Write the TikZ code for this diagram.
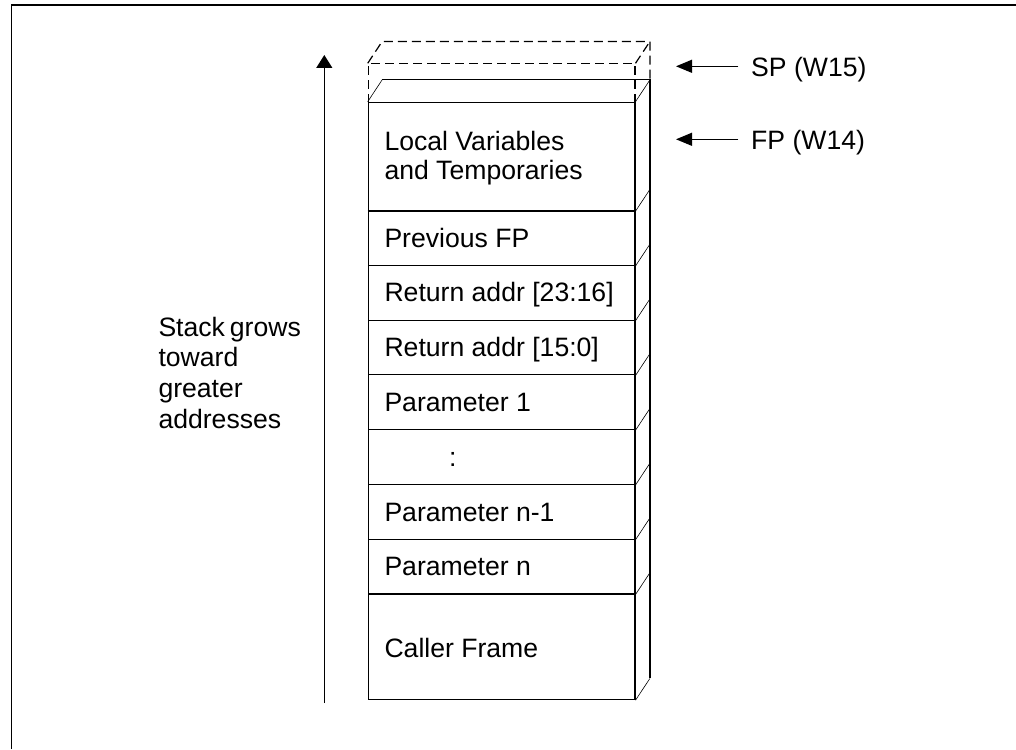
\documentclass[tikz,border=0pt]{standalone}
\usepackage{fontspec}
\setmainfont{Liberation Sans}
\usetikzlibrary{arrows.meta}
\begin{document}
\begin{tikzpicture}[x=1pt,y=-1pt,
  line/.style={line width=1.2pt},
  thin3d/.style={line width=0.6pt},
  dashline/.style={line width=1.2pt, dash pattern=on 9pt off 5pt},
  cell/.style={draw, line width=1.2pt, rectangle, inner sep=0pt, minimum width=266.6pt, anchor=north west},
  lbl/.style={font=\fontsize{26.6}{29}\selectfont, inner sep=0pt, anchor=base west},
  harrow/.style={line width=1.2pt, -{Triangle[length=16pt,width=13pt]}},
  varrow/.style={line width=1.2pt, -{Triangle[length=13pt,width=16pt]}},
  back/.style={shift={(14.4,-21.8)}}
]
\useasboundingbox (0,0) rectangle (1016,749);
% frame
\draw[line width=1.5pt] (11.5,749) -- (11.5,5) -- (1016,5);

% dashed (future) slot
\node[cell, dashline, minimum height=38.4pt] (spbox) at (367.7,63.3) {};
\draw[dashline] (spbox.north west) -- ([back]spbox.north west) -- ([back]spbox.north east) -- ([back]spbox.south east);
\draw[dashline] (spbox.north east) -- ([back]spbox.north east);

% cells
\node[cell, minimum height=108.3pt] (c0) at (367.7,101.7) {};
\node[cell, minimum height=54.76pt] (c1) at (367.7,210) {};
\node[cell, minimum height=54.76pt] (c2) at (367.7,264.76) {};
\node[cell, minimum height=54.76pt] (c3) at (367.7,319.52) {};
\node[cell, minimum height=54.76pt] (c4) at (367.7,374.28) {};
\node[cell, minimum height=54.76pt] (c5) at (367.7,429.04) {};
\node[cell, minimum height=54.76pt] (c6) at (367.7,483.8) {};
\node[cell, minimum height=54.76pt] (c7) at (367.7,538.56) {};
\node[cell, minimum height=105.7pt] (c8) at (367.7,593.32) {};
\draw[line width=2pt] (c0.south west) -- (c0.south east);

% 3D top face and right side
\draw[line] ([back]c0.north west) -- ([back]c0.north east) -- ([back]c8.south east);
\draw[thin3d] (c0.north west) -- ([back]c0.north west);
\foreach \c in {c0,c1,c2,c3,c4,c5,c6,c7,c8}{
  \draw[thin3d] (\c.south east) -- ([back]\c.south east);
}
\draw[thin3d] (c0.north east) -- ([back]c0.north east);

% cell texts
\node[lbl] (t0) at (384.3,150) {\begin{tabular}[t]{@{}l@{}}Local Variables\\and Temporaries\end{tabular}};
\node[lbl] (t1) at (384.3,247.2) {Previous FP};
\node[lbl] (t2) at (384.3,301.9) {Return addr [23:16]};
\node[lbl] (t3) at (384.3,356.7) {Return addr [15:0]};
\node[lbl] (t4) at (384.3,411.4) {Parameter 1};
\node[lbl] (t5) at (449,466.2) {:};
\node[lbl] (t6) at (384.3,521) {Parameter n-1};
\node[lbl] (t7) at (384.3,575.7) {Parameter n};
\node[lbl] (t8) at (384.3,657) {Caller Frame};

% growth arrow and text
\coordinate (gfrom) at (324.3,703);
\coordinate (gto) at (324.3,55);
\draw[varrow] (gfrom) -- (gto);
\node[lbl, font=\fontsize{26.6}{30.7}\selectfont] (grow) at (158.3,336) {\begin{tabular}[t]{@{}l@{}}Stack\hspace{-2.5pt} grows\\toward\\greater\\addresses\end{tabular}};

% pointers
\coordinate (spfrom) at (738.3,66.3);
\coordinate (spto) at (676,66.3);
\draw[harrow] (spfrom) -- (spto);
\node[lbl] (spl) at (751,76.7) {SP (W15)};
\coordinate (fpfrom) at (738.3,139.3);
\coordinate (fpto) at (676,139.3);
\draw[harrow] (fpfrom) -- (fpto);
\node[lbl] (fpl) at (751,149.7) {FP (W14)};
\end{tikzpicture}
\end{document}
